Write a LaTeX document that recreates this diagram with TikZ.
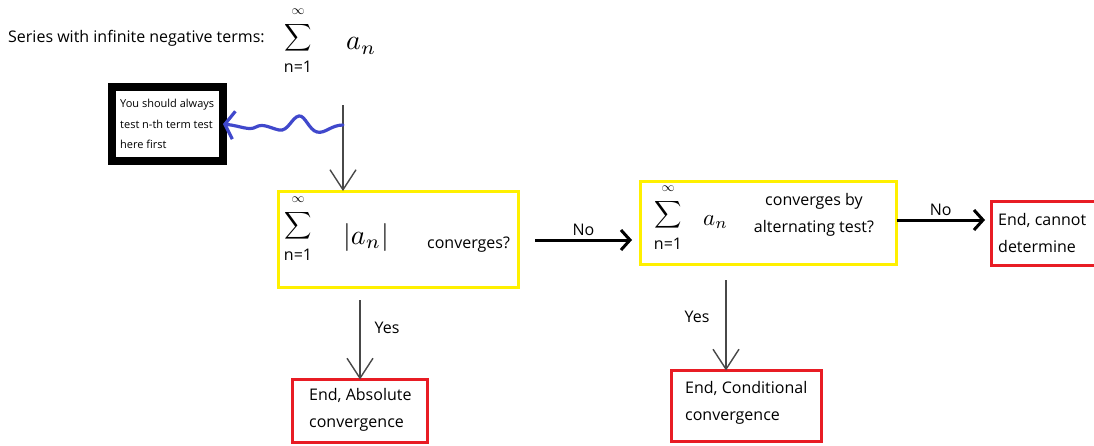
\documentclass[tikz,border=0pt]{standalone}
\usepackage{graphicx}
\usepackage{fontspec}
\setmainfont{Open Sans}
\usetikzlibrary{arrows.meta}
\definecolor{boxyellow}{RGB}{255,240,0}
\definecolor{boxred}{RGB}{232,28,36}
\definecolor{penblue}{RGB}{64,72,204}
\definecolor{pengray}{RGB}{72,72,72}
\tikzset{
  txt/.style={inner sep=0pt, font=\fontsize{16}{27}\selectfont, align=left},
  small/.style={inner sep=0pt, font=\fontsize{11}{20.5}\selectfont, align=left},
  mth/.style={inner sep=0pt},
  stack/.style={inner sep=0pt, font=\fontsize{16}{16}\selectfont, anchor=north},
  ybox/.style={draw=boxyellow, line width=3pt, inner sep=0pt, outer sep=0pt},
  rbox/.style={draw=boxred, line width=3pt, inner sep=0pt, outer sep=0pt},
  bbox/.style={draw=black, line width=8pt, inner sep=0pt, outer sep=0pt},
  pen/.style={draw=pengray, line width=1.4pt, -{Straight Barb[length=20pt,width=26pt,line width=1.4pt]}},
  noarrow/.style={draw=black, line width=3pt, -{Straight Barb[length=9pt,width=20pt]}},
  wave/.style={draw=penblue, line width=3.2pt, line cap=round, -{Straight Barb[length=9pt,width=28pt]}},
}
\newcommand{\sumstack}{\shortstack{{\fontsize{10}{10}\selectfont\scalebox{1.3}{$\infty$}}\\[5pt]{\fontsize{10}{10}\selectfont\scalebox{1.9}{$\displaystyle\sum$}}\\[5pt]n=1}}
\begin{document}
\begin{tikzpicture}[x=1pt,y=-1pt]
\useasboundingbox[fill=white] (0,0) rectangle (1094,445);

% title
\node[txt, anchor=west] (title) at (8,38) {Series with infinite negative terms:};
\node[stack] (tsum) at (298,9) {\sumstack};
\node[mth, anchor=west] (tan) at (346,46) {\scalebox{2.8}{$a_{n}$}};

% boxes
\node[bbox, minimum width=111, minimum height=74] (note) at (167.5,124) {};
\node[small, anchor=north west] (notetext) at (120,99) {You should always\\test n-th term test\\here first};

\node[ybox, minimum width=240, minimum height=96] (q1) at (398.5,239) {};
\node[ybox, minimum width=256, minimum height=83] (q2) at (768.5,223) {};
\node[rbox, minimum width=110, minimum height=64] (r3) at (1046.5,233.5) {};
\node[rbox, minimum width=135, minimum height=63] (r4) at (360,411) {};
\node[rbox, minimum width=150, minimum height=71] (r5) at (746.5,406) {};

% box 1 content
\node[stack] (q1sum) at (298,197) {\sumstack};
\node[mth, anchor=west] (q1a) at (343,237) {\scalebox{2.8}{$|a_{n}|$}};
\node[txt, anchor=west] (q1t) at (427,245) {converges?};

% box 2 content
\node[stack] (q2sum) at (668,186) {\sumstack};
\node[mth, anchor=west] (q2a) at (703,222) {\scalebox{2.3}{$a_{n}$}};
\node[txt, align=center] (q2t) at (814,215) {converges by\\alternating test?};

% end texts
\node[txt, anchor=north west] (r3t) at (998,213) {End, cannot\\determine};
\node[txt, anchor=north west] (r4t) at (309,388) {End, Absolute\\convergence};
\node[txt, anchor=north west] (r5t) at (685,381) {End, Conditional\\convergence};

% connectors
\coordinate (top) at (343,105);
\coordinate (wv) at (343,125);
\draw[pen] (top) -- (top |- q1.north);
\draw[wave] (wv) .. controls (331,125) and (325,134) .. (317,132)
  .. controls (309,130) and (305,115) .. (299,116)
  .. controls (292,117) and (288,132) .. (279,130)
  .. controls (270,128) and (263,123) .. (256,127)
  .. controls (249,131) and (241,126) .. (note.east);

\coordinate (n1s) at (535,240);
\coordinate (n1e) at (632,240);
\draw[noarrow] (n1s) -- (n1e) node[midway, above=3pt, txt] (no1) {No};

\coordinate (n2e) at (985,220);
\draw[noarrow] (q2.east |- n2e) -- (n2e) node[midway, above=3pt, txt] (no2) {No};

\coordinate (y1s) at (360,300);
\draw[pen] (y1s) -- (r4.north);
\node[txt] (yes1) at (387,328) {Yes};

\coordinate (y2s) at (726,280);
\draw[pen] (y2s) -- (y2s |- r5.north);
\node[txt] (yes2) at (697,317) {Yes};
\end{tikzpicture}
\end{document}
